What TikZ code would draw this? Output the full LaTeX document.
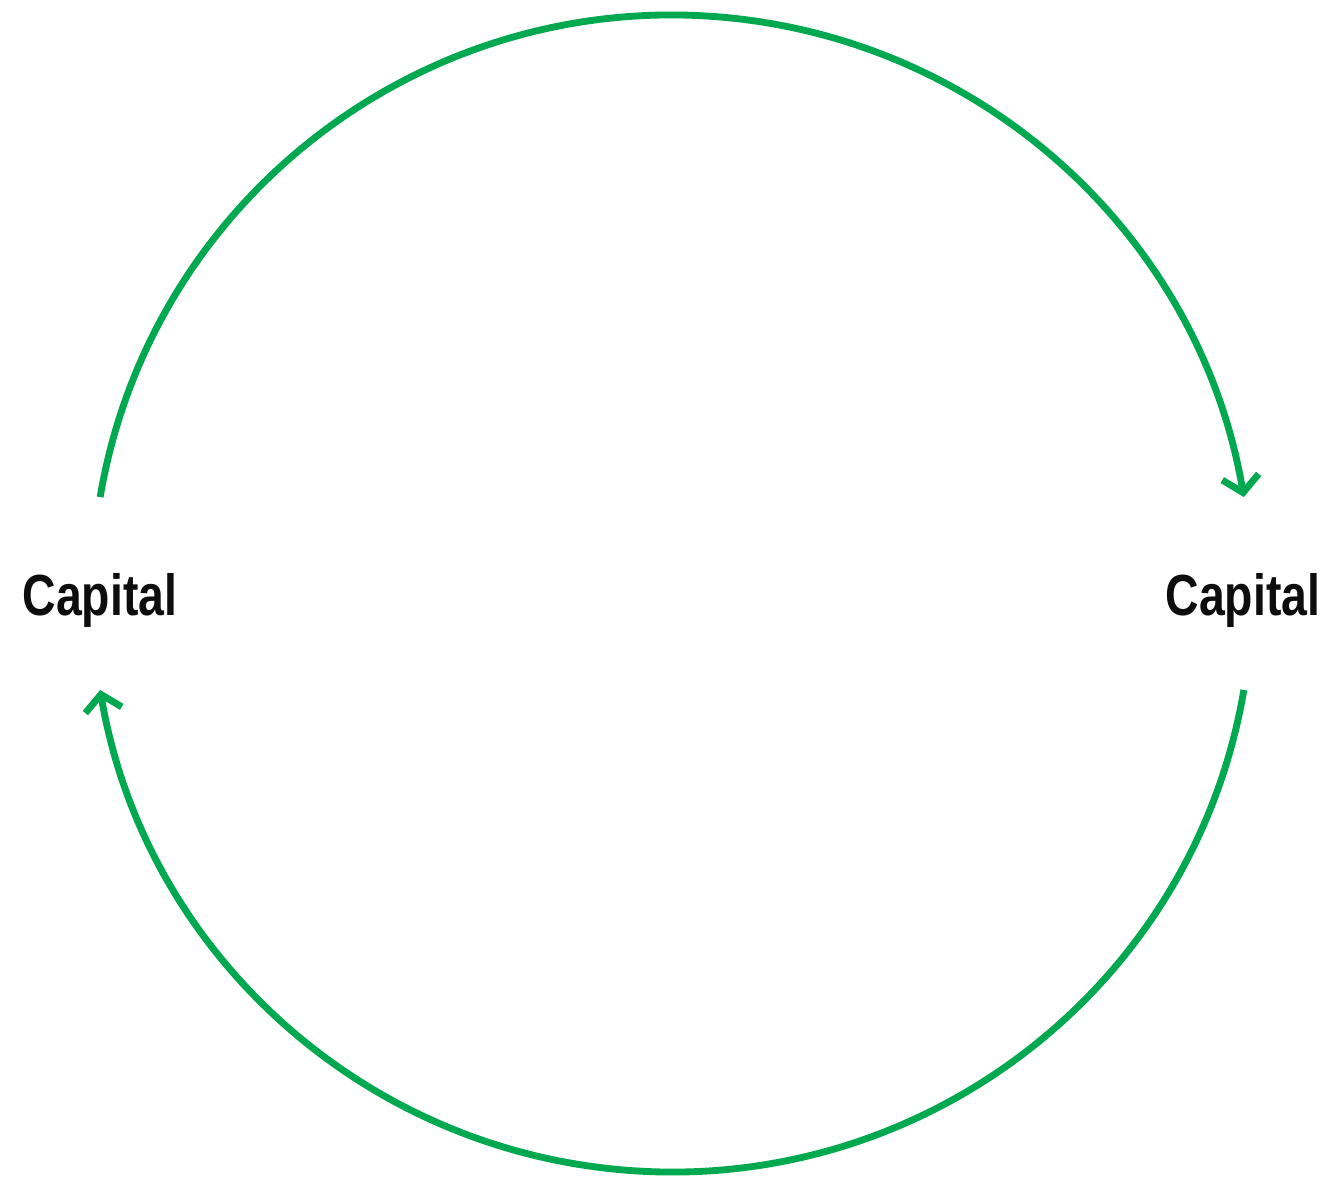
\documentclass[tikz,border=0pt]{standalone}
\usepackage{fontspec}
\setmainfont{Liberation Sans}[FakeStretch=0.8]
\usetikzlibrary{arrows.meta, calc}
\definecolor{cyclegreen}{RGB}{0,168,80}

\begin{document}
\begin{tikzpicture}[
    x=0.02cm, y=0.02cm,
    label/.style={font=\fontsize{33}{38}\selectfont\bfseries, text=black!95},
    flow/.style={draw=cyclegreen, line width=3.9pt, -{Straight Barb[length=9pt, width=21pt]}}
  ]
    \useasboundingbox (0,0) rectangle (1326,-1177);
    \node[label] (capL) at (100,-600) {Capital};
    \node[label] (capR) at (1243,-600) {Capital};
    \coordinate (topstart) at ($(672,-593.5)+(170.4:580 and 578.5)$);
    \coordinate (botstart) at ($(672,-593.5)+(-9.6:580 and 578.5)$);
    \draw[flow] (topstart) arc[start angle=170.4, end angle=9.6, x radius=580, y radius=578.5];
    \draw[flow] (botstart) arc[start angle=-9.6, end angle=-170.4, x radius=580, y radius=578.5];
  \end{tikzpicture}
\end{document}
